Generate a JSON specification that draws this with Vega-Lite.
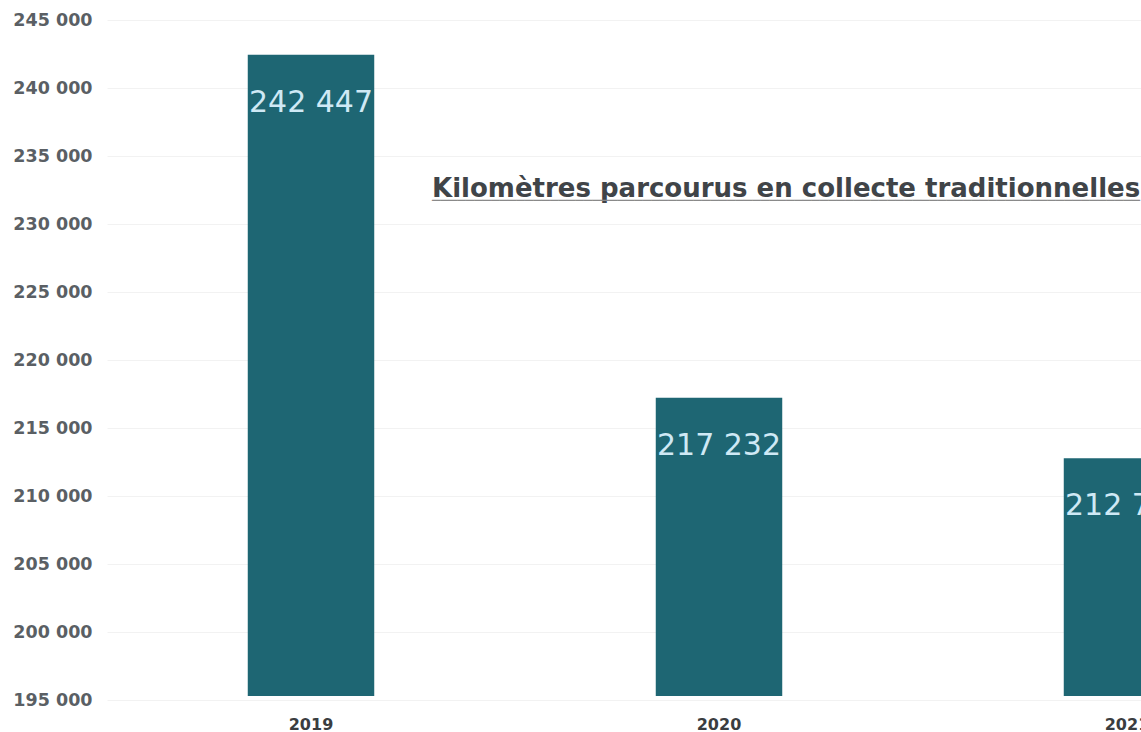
{
  "$schema": "https://vega.github.io/schema/vega-lite/v6.json",
  "autosize": {"type": "none"},
  "padding": {"left": 107, "top": 20, "right": 0, "bottom": 32},
  "width": 1034,
  "height": 680,
  "background": "white",
  "config": {
    "view": {"stroke": null},
    "locale": {"number": {"decimal": ",", "thousands": " ", "grouping": [3], "currency": ["", " €"]}}
  },
  "title": {
    "text": "Kilomètres parcourus en collecte traditionnelles",
    "subtitle": "────────────────────────────────────────────────────────────────────────────────────",
    "anchor": "start",
    "frame": "group",
    "orient": "top",
    "baseline": "alphabetic",
    "offset": 0,
    "dx": 325,
    "dy": 218,
    "font": "DejaVu Sans",
    "fontSize": 26,
    "fontWeight": 700,
    "color": "#404448",
    "subtitleFont": "DejaVu Sans Mono",
    "subtitleFontSize": 14,
    "subtitleColor": "#8a8a8a",
    "subtitlePadding": -18
  },
  "data": {
    "values": [
      {"annee": "2019", "km": 242447},
      {"annee": "2020", "km": 217232},
      {"annee": "2021", "km": 212780}
    ]
  },
  "encoding": {
    "x": {
      "field": "annee",
      "type": "nominal",
      "sort": null,
      "scale": {"range": [0, 1224], "paddingInner": 0.69, "paddingOuter": 0.345},
      "axis": {
        "title": null,
        "domain": false,
        "ticks": false,
        "labelAngle": 0,
        "labelPadding": 16,
        "labelFont": "DejaVu Sans",
        "labelFontSize": 16,
        "labelFontWeight": "bold",
        "labelColor": "#3a3d40"
      }
    },
    "y": {
      "field": "km",
      "type": "quantitative",
      "scale": {"domain": [195000, 245000], "zero": false, "nice": false},
      "axis": {
        "title": null,
        "values": [195000, 200000, 205000, 210000, 215000, 220000, 225000, 230000, 235000, 240000, 245000],
        "format": ",d",
        "domain": false,
        "ticks": false,
        "labelPadding": 15,
        "labelFont": "DejaVu Sans",
        "labelFontSize": 17.5,
        "labelFontWeight": "bold",
        "labelColor": "#5a5f64",
        "gridColor": "#f2f2f2",
        "gridWidth": 1
      }
    }
  },
  "layer": [
    {
      "mark": {"type": "bar", "color": "#1e6673", "clip": true},
      "encoding": {"y2": {"datum": 195300}}
    },
    {
      "mark": {"type": "text", "baseline": "middle", "dy": 48, "font": "DejaVu Sans", "fontSize": 30, "color": "#cfe9f5"},
      "encoding": {"text": {"field": "km", "type": "quantitative", "format": ",d"}}
    }
  ]
}
